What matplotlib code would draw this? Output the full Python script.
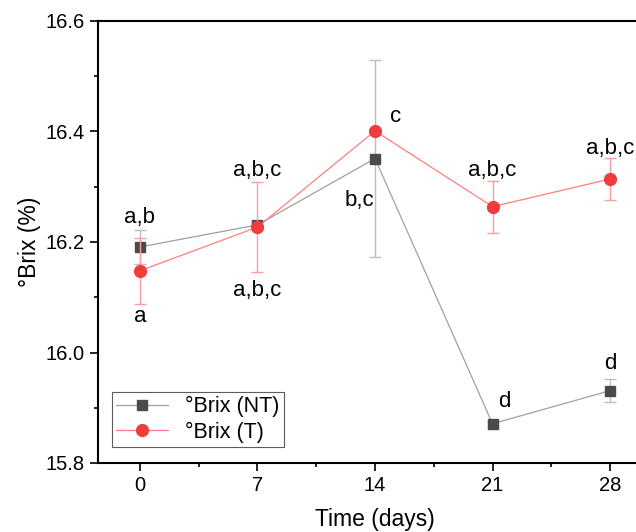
import matplotlib
matplotlib.use("Agg")
import matplotlib.pyplot as plt
from matplotlib.lines import Line2D
from matplotlib.ticker import MultipleLocator

plt.rcParams["font.family"] = ["Liberation Sans", "DejaVu Sans"]

days = [0, 7, 14, 21, 28]
brix_nt = [16.191, 16.231, 16.351, 15.871, 15.931]
err_nt = [0.03, 0.005, 0.178, 0.005, 0.021]
brix_t = [16.148, 16.227, 16.401, 16.264, 16.314]
err_t = [0.06, 0.081, 0.0, 0.047, 0.038]

# letter annotations: (x, y, text)
labels_x = [0, 0, 7, 7, 15.2, 13.1, 21, 21.7, 28, 28]
labels_y = [16.245, 16.066, 16.33, 16.113, 16.428, 16.276, 16.33, 15.912, 16.37, 15.98]
labels_txt = ["a,b", "a", "a,b,c", "a,b,c", "c", "b,c", "a,b,c", "d", "a,b,c", "d"]

fig = plt.figure(figsize=(6.36, 5.32), dpi=100)
ax = fig.add_axes([98 / 636, (532 - 463) / 532, (652 - 98) / 636, 442 / 532])

ax.errorbar(days, brix_nt, yerr=err_nt, color="#a0a0a0", lw=0.9, capsize=4,
            ecolor="#bdbdbd", elinewidth=1.0, capthick=1.0,
            marker="s", ms=7, mfc="#4a4a4a", mec="#4a4a4a", zorder=2)
ax.errorbar(days, brix_t, yerr=err_t, color="#ff7f7f", lw=0.9, capsize=4,
            ecolor="#ff9d9d", elinewidth=1.0, capthick=1.0,
            marker="o", ms=8.5, mfc="#f03c3c", mec="#f03c3c", zorder=3)

for x, y, t in zip(labels_x, labels_y, labels_txt):
    ax.text(x, y, t, ha="center", va="center", fontsize=16)

ax.set_xlim(-2.5, 30.5)
ax.set_ylim(15.8, 16.6)
ax.set_xticks(days)
ax.xaxis.set_minor_locator(MultipleLocator(3.5))
ax.yaxis.set_major_locator(MultipleLocator(0.2))
ax.yaxis.set_minor_locator(MultipleLocator(0.1))
ax.tick_params(which="major", direction="out", length=6, width=1.2, labelsize=14.5)
ax.tick_params(which="minor", direction="out", length=3, width=1.2)
for s in ax.spines.values():
    s.set_linewidth(1.5)
ax.spines["right"].set_visible(False)

ax.set_xlabel("Time (days)", fontsize=16.5, labelpad=9)
ax.set_ylabel("°Brix (%)", fontsize=16.5, labelpad=3)

handles = [
    Line2D([], [], color="#a0a0a0", lw=0.9, marker="s", ms=7, mfc="#4a4a4a", mec="#4a4a4a"),
    Line2D([], [], color="#ff7f7f", lw=0.9, marker="o", ms=8.5, mfc="#f03c3c", mec="#f03c3c"),
]
leg = ax.legend(handles, ["°Brix (NT)", "°Brix (T)"], loc="lower left", fontsize=15.5,
                frameon=True, fancybox=False, edgecolor="#333333", borderpad=0.2,
                handlelength=2.4, handletextpad=0.8, labelspacing=0.2, borderaxespad=0,
                bbox_to_anchor=(14 / 554, 16 / 442))
leg.get_frame().set_linewidth(0.8)

fig.savefig("out.png", dpi=100)
